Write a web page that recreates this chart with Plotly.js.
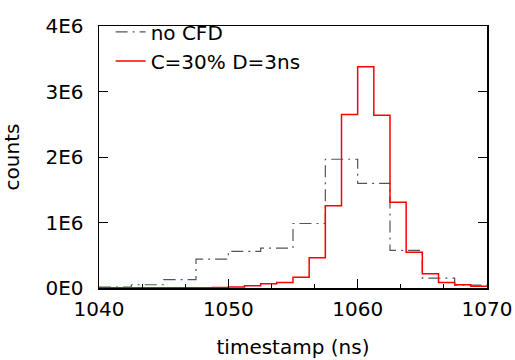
<!DOCTYPE html>
<html><head><meta charset="utf-8">
<script src="https://cdn.plot.ly/plotly-3.0.1.min.js"></script>
<style>body{margin:0;padding:0;background:#fff}</style>
</head><body>
<div id="chart" style="width:515px;height:360px"></div>
<script>
// no CFD: 2.5 ns bins, left edges
const noCfdEdges = [1040, 1042.5, 1045, 1047.5, 1050, 1052.5, 1055, 1057.5, 1060, 1062.5, 1065, 1067.5, 1070];
const noCfdCounts = [15000, 50000, 128000, 440000, 560000, 610000, 985000, 1966000, 1598000, 575000, 152000, 45000];
// C=30% D=3ns: 1.25 ns bins, left edges
const cfdEdges = [1040, 1041.25, 1042.5, 1043.75, 1045, 1046.25, 1047.5, 1048.75, 1050, 1051.25, 1052.5, 1053.75, 1055, 1056.25, 1057.5, 1058.75, 1060, 1061.25, 1062.5, 1063.75, 1065, 1066.25, 1067.5, 1068.75, 1070];
const cfdCounts = [2000, 2000, 2000, 3000, 3000, 4000, 5000, 8000, 15000, 35000, 65000, 85000, 166000, 460000, 1255000, 2647000, 3378000, 2637000, 1309000, 544000, 216000, 84000, 49000, 25000];
const yTickVals = [0, 1000000, 2000000, 3000000, 4000000];
const yTickText = ["0E0", "1E6", "2E6", "3E6", "4E6"];

function stepY(counts){ return counts.concat([counts[counts.length-1]]); }

const traces = [
  {x: noCfdEdges, y: stepY(noCfdCounts), type:'scatter', mode:'lines', name:'no CFD',
   line:{shape:'hv', color:'#555555', width:1.2, dash:'12px,5px,2px,5px'}},
  {x: cfdEdges, y: stepY(cfdCounts), type:'scatter', mode:'lines', name:'C=30% D=3ns',
   line:{shape:'hv', color:'#ff0000', width:1.5}}
];
const font = {family:'DejaVu Sans', size:20, color:'#000'};
const layout = {
  width:515, height:360,
  margin:{l:99, r:28, t:16, b:72},
  paper_bgcolor:'#fff', plot_bgcolor:'#fff',
  font: font,
  showlegend:true,
  legend:{x:0.03, y:1.052, xanchor:'left', yanchor:'top', bgcolor:'rgba(0,0,0,0)', font:{family:'DejaVu Sans', size:20, color:'#000'}, tracegroupgap:0, itemwidth:30},
  xaxis:{range:[1040,1070], dtick:10, tick0:1040, ticks:'inside', ticklen:9, tickcolor:'#000', tickwidth:1,
         showline:true, linecolor:'#000', linewidth:1.5, mirror:true, showgrid:false, zeroline:false,
         tickfont:font, ticklabelstandoff:2, title:{text:'timestamp (ns)', font:font, standoff:20},
         minor:{dtick:10/3, tick0:1040, ticks:'inside', ticklen:4, tickcolor:'#000', showgrid:false}},
  yaxis:{range:[0,4000000], tickvals:yTickVals, ticktext:yTickText, ticks:'inside', ticklen:9, tickcolor:'#000', tickwidth:1,
         showline:true, linecolor:'#000', linewidth:1.5, mirror:'ticks', showgrid:false, zeroline:false,
         tickfont:font, ticklabelstandoff:10, title:{text:'counts', font:font, standoff:20}}
};
Plotly.newPlot('chart', traces, layout, {staticPlot:true, displayModeBar:false});
</script>
</body></html>
